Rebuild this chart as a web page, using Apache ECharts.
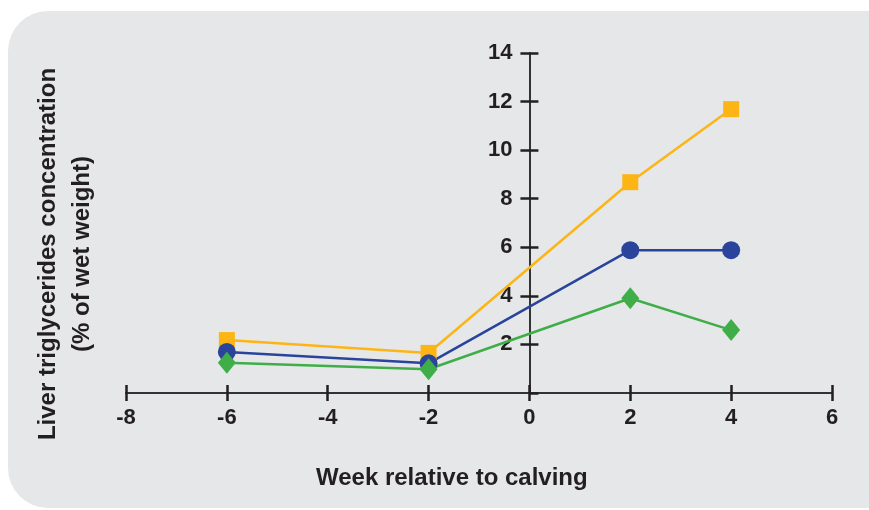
<!DOCTYPE html>
<html>
<head>
<meta charset="utf-8">
<script src="https://cdn.jsdelivr.net/npm/echarts@6/dist/echarts.min.js"></script>
<style>
  html, body { margin: 0; padding: 0; background: #fff; }
  #chart { width: 869px; height: 510px; }
</style>
</head>
<body>
<div id="chart"></div>
<script>
// week relative to calving
var weeks = [-6, -2, 2, 4]
// liver TG, % of wet weight
var squareSeries = [2.18, 1.65, 8.68, 11.69]
var circleSeries = [1.69, 1.22, 5.88, 5.88]
var diamondSeries = [1.25, 0.98, 3.9, 2.59]

var xTicks = { min: -8, max: 6, interval: 2 }
var yTicks = { min: 0, max: 14, interval: 2 }

var FONT = '"Liberation Sans", Arial, sans-serif'
var INK = '#231f20'

var W = 869, H = 510
var grid = { left: 126, right: 37, top: 53, bottom: 117 }
// y axis sits at week 0, so shift it right from the grid's left edge
var yShift = -(W - grid.left - grid.right) * (0 - xTicks.min) / (xTicks.max - xTicks.min)

function pairs(vals) {
    var out = []
    for (var i = 0; i < weeks.length; i++) out.push([weeks[i], vals[i]])
    return out
}

var chart = echarts.init(document.getElementById('chart'))

// two copies of each axis: one with outward ticks + labels, one with inward ticks,
// so the tick marks cross the axis line like in the original
function xAxisDef(inside, withLabels) {
    return {
        type: 'value',
        min: xTicks.min, max: xTicks.max, interval: xTicks.interval,
        position: 'bottom',
        axisLine: { show: withLabels, onZero: false, lineStyle: { color: '#333', width: 2 } },
        axisTick: { show: true, inside: inside, length: 8, lineStyle: { color: INK, width: 2.5 } },
        axisLabel: {
            show: withLabels, margin: 14,
            color: INK, fontSize: 22, fontWeight: 'bold', fontFamily: FONT
        },
        splitLine: { show: false }
    }
}

function yAxisDef(inside, withLabels) {
    return {
        type: 'value',
        min: yTicks.min, max: yTicks.max, interval: yTicks.interval,
        position: 'left',
        offset: yShift,
        axisLine: { show: withLabels, onZero: false, lineStyle: { color: '#333', width: 2 } },
        axisTick: { show: true, inside: inside, length: 9, lineStyle: { color: INK, width: 2.5 } },
        axisLabel: {
            show: withLabels, margin: 17, showMinLabel: false,
            color: INK, fontSize: 22, fontWeight: 'bold', fontFamily: FONT
        },
        splitLine: { show: false }
    }
}

var option = {
    animation: false,
    graphic: [
        {
            type: 'rect', z: -100, silent: true,
            shape: { x: 8, y: 11, width: 900, height: 497, r: 40 },
            style: { fill: '#e6e7e9' }
        },
        {
            type: 'text', left: 316, top: 466,
            style: {
                text: 'Week relative to calving',
                font: 'bold 24px ' + FONT, fill: INK
            }
        },
        {
            type: 'text', rotation: Math.PI / 2, x: 65, y: 254,
            style: {
                text: 'Liver triglycerides concentration\n(% of wet weight)',
                font: 'bold 24px ' + FONT, fill: INK,
                align: 'center', verticalAlign: 'middle', lineHeight: 34
            }
        }
    ],
    grid: grid,
    xAxis: [xAxisDef(false, true), xAxisDef(true, false)],
    yAxis: [yAxisDef(false, true), yAxisDef(true, false)],
    series: [
        {
            name: 'square', type: 'line', data: pairs(squareSeries),
            symbol: 'rect', symbolSize: 16,
            lineStyle: { color: '#fdb515', width: 2.5 },
            itemStyle: { color: '#fdb515' }
        },
        {
            name: 'circle', type: 'line', data: pairs(circleSeries),
            symbol: 'circle', symbolSize: 18,
            lineStyle: { color: '#2a449c', width: 2.5 },
            itemStyle: { color: '#2a449c' }
        },
        {
            name: 'diamond', type: 'line', data: pairs(diamondSeries),
            symbol: 'diamond', symbolSize: [18, 22],
            lineStyle: { color: '#3fae49', width: 2.5 },
            itemStyle: { color: '#3fae49' }
        }
    ]
}

chart.setOption(option)
</script>
</body>
</html>
